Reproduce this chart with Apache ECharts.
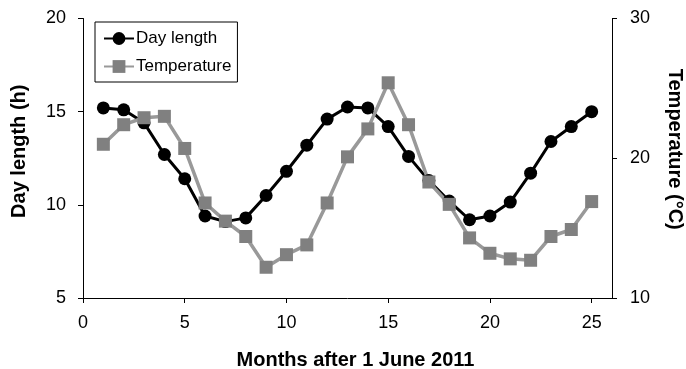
<!DOCTYPE html>
<html>
<head>
<meta charset="utf-8">
<script src="https://cdn.jsdelivr.net/npm/echarts@6/dist/echarts.min.js"></script>
<style>html,body{margin:0;padding:0;background:#fff}#c{width:686px;height:369px}</style>
</head>
<body>
<div id="c"></div>
<script>
var months = [1,2,3,4,5,6,7,8,9,10,11,12,13,14,15,16,17,18,19,20,21,22,23,24,25];
var dayLength = [15.2,15.1,14.4,12.7,11.4,9.4,9.1,9.3,10.5,11.8,13.2,14.6,15.25,15.2,14.2,12.6,11.3,10.2,9.2,9.4,10.15,11.7,13.4,14.2,15.0];
var temperature = [21.0,22.4,22.9,23.0,20.7,16.8,15.5,14.4,12.2,13.1,13.8,16.8,20.1,22.1,25.4,22.4,18.3,16.7,14.3,13.2,12.8,12.7,14.4,14.9,16.9];
var xTicks = [0,5,10,15,20,25];

var font = 'Liberation Sans, Arial, sans-serif';
var chart = echarts.init(document.getElementById('c'));
function pairs(ys){ return months.map(function(m,i){ return [m, ys[i]]; }); }
var axisLineStyle = {show:true, lineStyle:{color:'#000', width:1}};
chart.setOption({
  animation:false,
  textStyle:{fontFamily:font},
  grid:{left:83, right:74, top:18.5, bottom:71, containLabel:false, outerBoundsMode:'none'},
  legend:{
    orient:'vertical', left:95, top:22,
    padding:[8,6,7,8],
    borderColor:'#000', borderWidth:1,
    itemWidth:30, itemHeight:16, itemGap:11,
    textStyle:{fontFamily:font, fontSize:17, color:'#000', padding:[0,0,0,-3]},
    data:['Day length','Temperature']
  },
  xAxis:{
    type:'value', min:0, max:26, interval:5,
    name:'Months after 1 June 2011', nameLocation:'middle', nameGap:52,
    nameTextStyle:{fontFamily:font, fontSize:20, fontWeight:'bold', color:'#000', padding:[0,0,0,16]},
    axisLine:axisLineStyle,
    axisTick:{show:true, length:5, lineStyle:{color:'#000'}, customValues:xTicks},
    axisLabel:{fontFamily:font, fontSize:18, color:'#000', margin:16, customValues:xTicks},
    splitLine:{show:false}
  },
  yAxis:[{
    type:'value', min:5, max:20, interval:5, position:'left',
    name:'Day length (h)', nameLocation:'middle', nameGap:54,
    nameTextStyle:{fontFamily:font, fontSize:20, fontWeight:'bold', color:'#000', padding:[0,0,0,14]},
    axisLine:axisLineStyle,
    axisTick:{show:true, length:5, lineStyle:{color:'#000'}},
    axisLabel:{fontFamily:font, fontSize:18, color:'#000', margin:17},
    splitLine:{show:false}
  },{
    type:'value', min:10, max:30, interval:10, position:'right',
    name:'Temperature (°C)', nameLocation:'middle', nameGap:53, nameRotate:-90,
    nameTextStyle:{fontFamily:font, fontSize:20, fontWeight:'bold', color:'#000', padding:[0,18,0,0]},
    axisLine:axisLineStyle,
    axisTick:{show:true, length:5, lineStyle:{color:'#000'}},
    axisLabel:{fontFamily:font, fontSize:18, color:'#000', margin:18},
    splitLine:{show:false}
  }],
  series:[{
    name:'Day length', type:'line', yAxisIndex:0, data:pairs(dayLength),
    symbol:'circle', symbolSize:13,
    itemStyle:{color:'#000'}, lineStyle:{color:'#000', width:3}
  },{
    name:'Temperature', type:'line', yAxisIndex:1, data:pairs(temperature),
    symbol:'rect', symbolSize:13,
    itemStyle:{color:'#808080'}, lineStyle:{color:'#999', width:3.5}
  }]
});
</script>
</body>
</html>
